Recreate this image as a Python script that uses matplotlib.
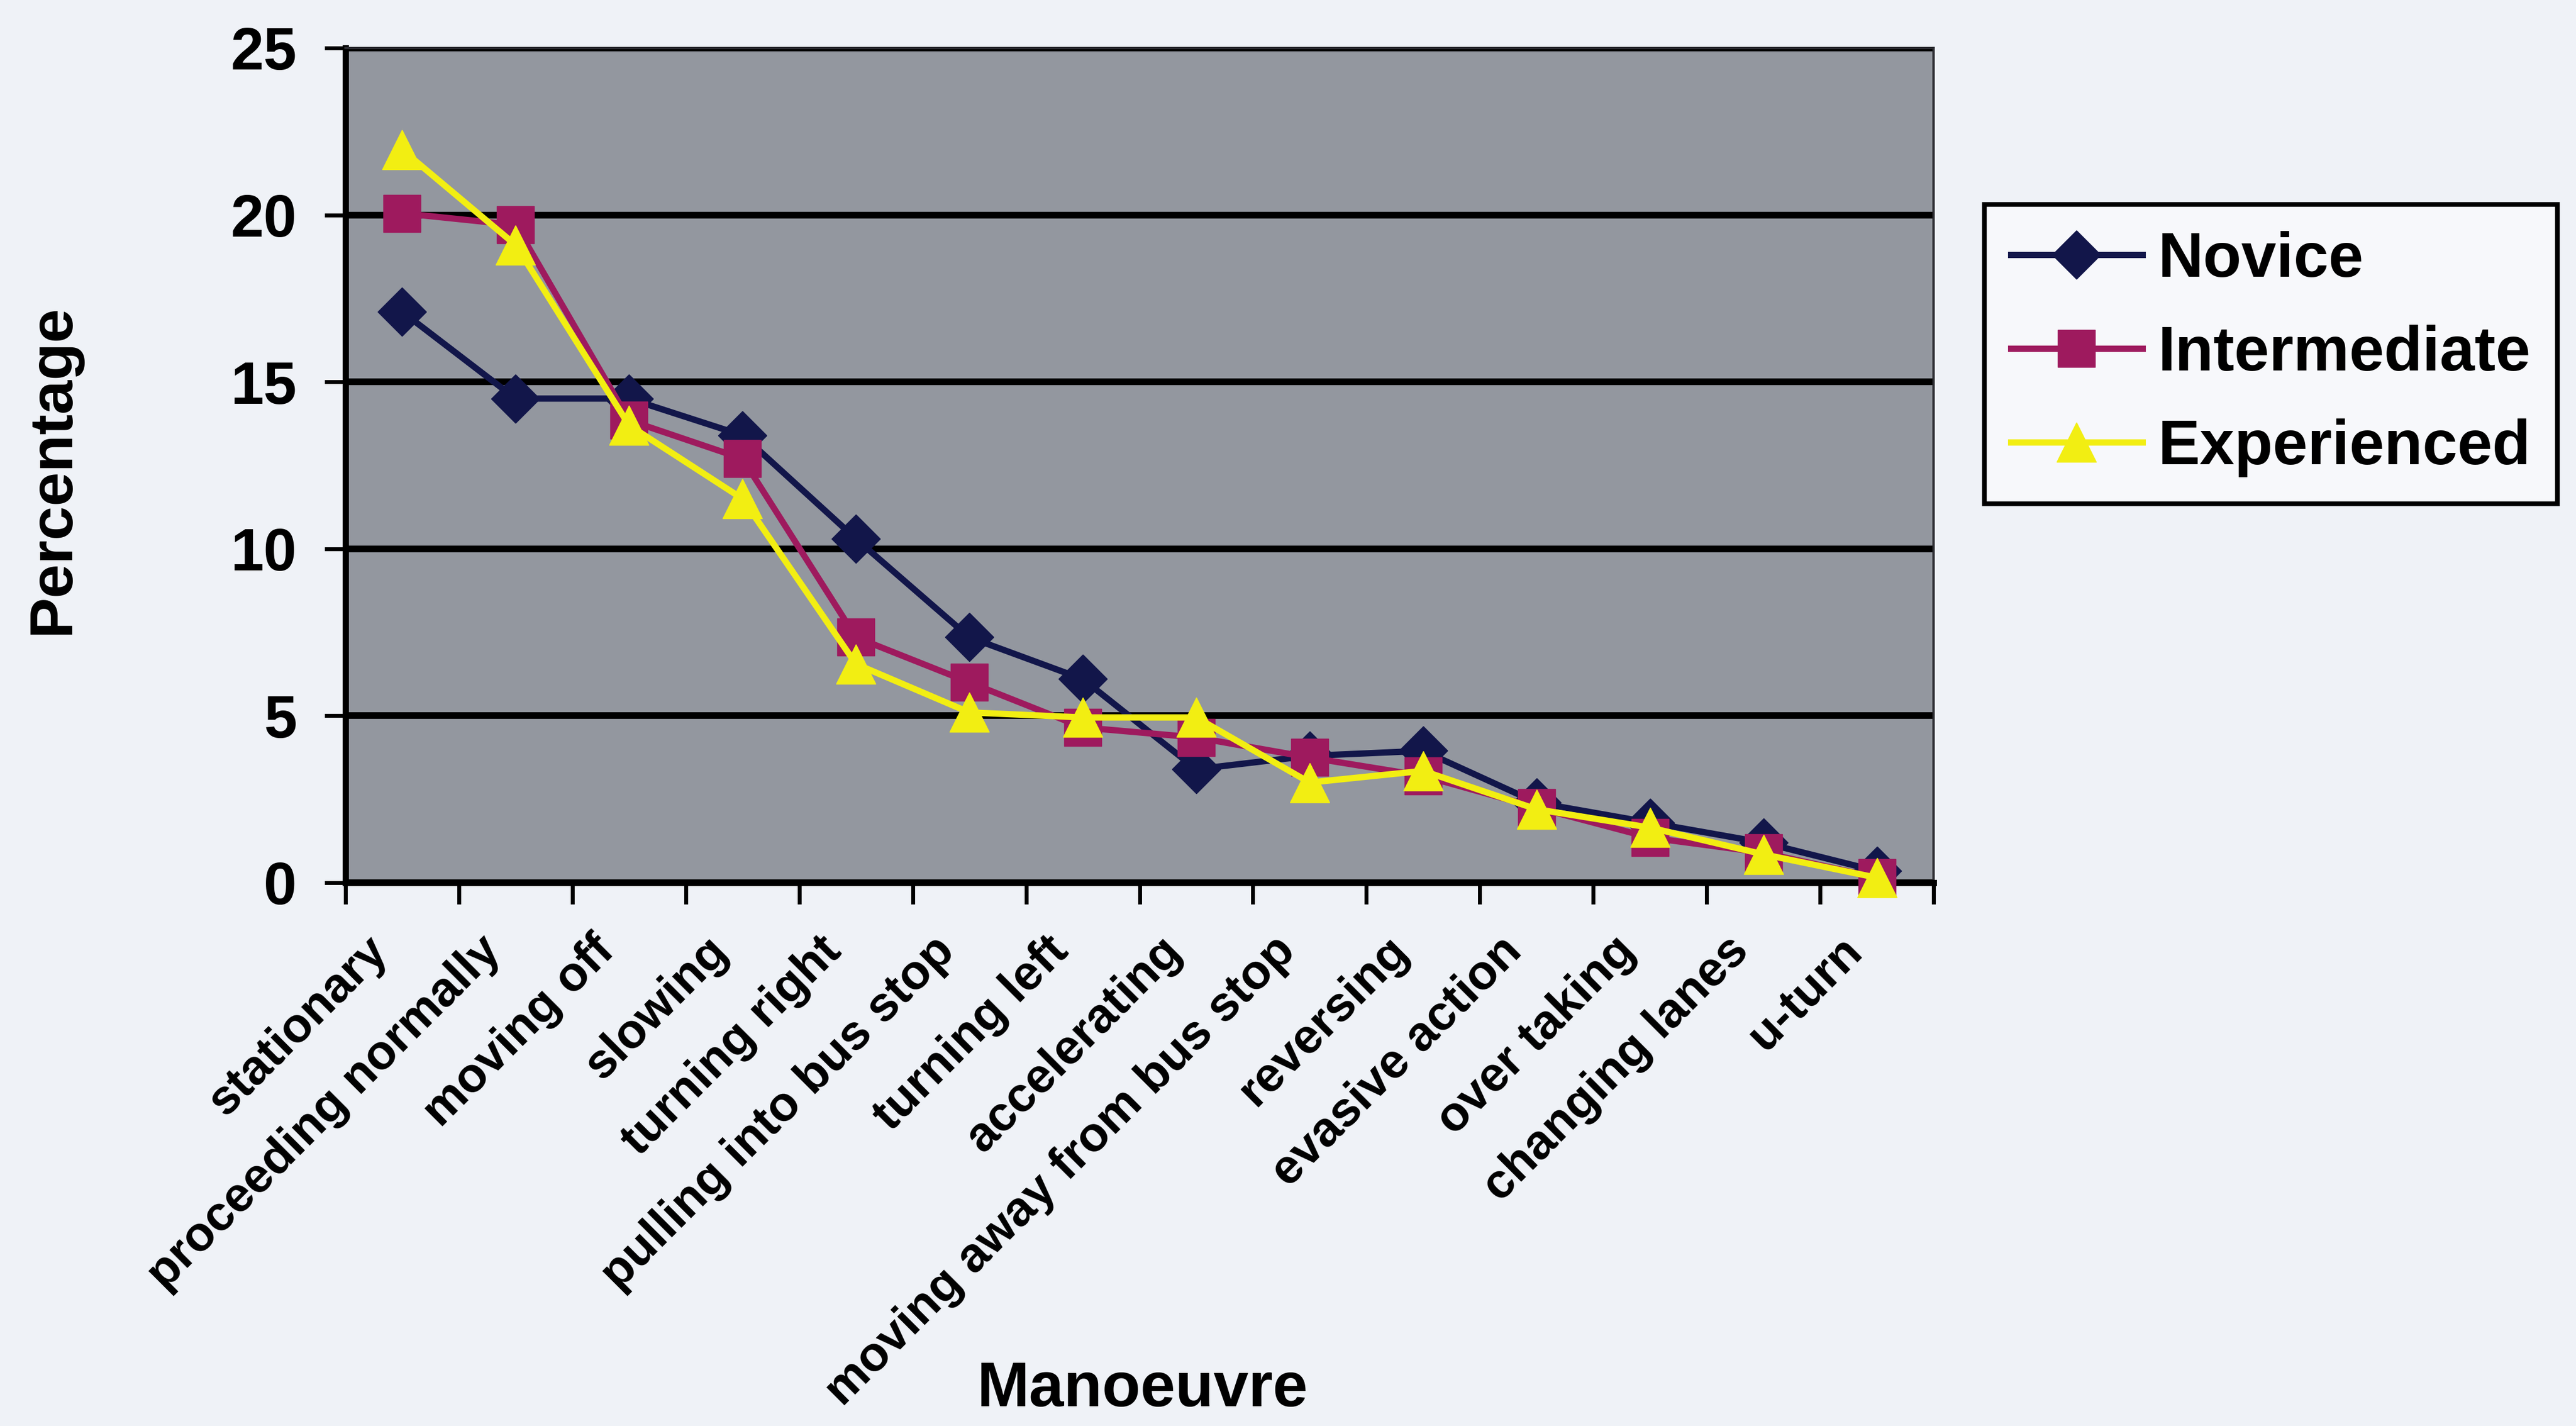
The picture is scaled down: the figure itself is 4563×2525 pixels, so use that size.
import matplotlib
matplotlib.use("Agg")
import matplotlib.pyplot as plt
from matplotlib.transforms import ScaledTranslation
import numpy as np

# Manoeuvre categories and percentage of events per driver group
categories = [
    "stationary", "proceeding normally", "moving off", "slowing",
    "turning right", "pulling into bus stop", "turning left", "accelerating",
    "moving away from bus stop", "reversing", "evasive action", "over taking",
    "changing lanes", "u-turn",
]
novice = [17.1, 14.5, 14.5, 13.4, 10.3, 7.35, 6.1, 3.4, 3.8, 3.95, 2.4, 1.8, 1.2, 0.35]
intermediate = [20.05, 19.7, 13.85, 12.7, 7.35, 6.0, 4.65, 4.35, 3.75, 3.2, 2.25, 1.35, 0.9, 0.15]
experienced = [21.95, 19.1, 13.7, 11.5, 6.55, 5.1, 4.95, 4.95, 3.0, 3.35, 2.2, 1.65, 0.85, 0.15]
y_ticks = [0, 5, 10, 15, 20, 25]

FONT = "Liberation Sans"
plt.rcParams["font.family"] = [FONT, "DejaVu Sans"]
plt.rcParams["font.weight"] = "bold"

W, H, DPI = 4563, 2525, 100
fig = plt.figure(figsize=(W / DPI, H / DPI), dpi=DPI)
fig.patch.set_facecolor("#eff2f7")

ax = fig.add_axes([612 / W, 1 - 1563 / H, (3425 - 612) / W, (1563 - 85) / H])
ax.set_facecolor("#93979f")

x = np.arange(len(categories))
series = [
    ("Novice", novice, "#12164a", "D", 44),
    ("Intermediate", intermediate, "#9e1a5e", "s", 47),
    ("Experienced", experienced, "#f2ee12", "^", 50),
]
handles = []
for name, vals, col, mk, ms in series:
    (ln,) = ax.plot(x, vals, color=col, lw=8, marker=mk, ms=ms,
                    markerfacecolor=col, markeredgecolor=col, markeredgewidth=1,
                    label=name, zorder=3, clip_on=False)
    handles.append(ln)

ax.set_xlim(-0.5, len(categories) - 0.5)
ax.set_ylim(0, 25)

# horizontal gridlines
ax.set_yticks(y_ticks)
ax.yaxis.grid(True, color="black", lw=8.5)
ax.set_axisbelow(True)

ax.tick_params(axis="y", direction="out", length=27, width=5, pad=35,
               labelsize=76, colors="black")
for lab in ax.get_yticklabels():
    lab.set_fontweight("bold")

# category labels at centres, tick marks at category boundaries
ax.set_xticks(x)
ax.set_xticklabels(categories, rotation=45, ha="right", va="top",
                   fontsize=62, fontweight="bold")
ax.tick_params(axis="x", which="major", length=0, pad=58)
ax.set_xticks(np.arange(-0.5, len(categories)), minor=True)
ax.tick_params(axis="x", which="minor", direction="out", length=27, width=5)
shift = ScaledTranslation(-0.1, 0, fig.dpi_scale_trans)
for lab in ax.get_xticklabels():
    lab.set_transform(lab.get_transform() + shift)

for side in ("left", "bottom"):
    ax.spines[side].set_linewidth(8)
    ax.spines[side].set_color("black")
for side in ("top", "right"):
    ax.spines[side].set_linewidth(3)
    ax.spines[side].set_color("#2a2a30")

fig.text(94 / W, 1 - 831 / H, "Percentage", rotation=90, ha="center",
         va="center", fontsize=78, fontweight="bold")
fig.text(2024 / W, 1 - 2461 / H, "Manoeuvre", ha="center", va="center",
         fontsize=80, fontweight="bold")

leg = fig.legend(handles=handles, loc="upper left",
                 bbox_to_anchor=(3515 / W, 1 - 362 / H), borderaxespad=0,
                 prop={"family": FONT, "weight": "bold", "size": 80},
                 handlelength=2.1, handletextpad=0.25, labelspacing=0.56,
                 borderpad=0.42, fancybox=False, framealpha=1)
leg.get_frame().set_edgecolor("black")
leg.get_frame().set_linewidth(6)
leg.get_frame().set_facecolor("#f7f8fb")

fig.savefig("out.png", dpi=DPI, facecolor=fig.get_facecolor())
